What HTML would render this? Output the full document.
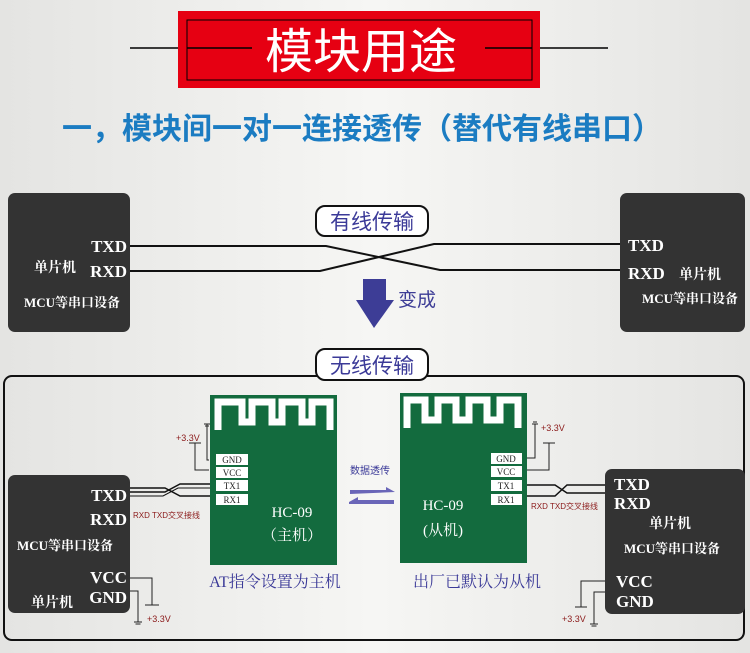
<!DOCTYPE html>
<html><head><meta charset="utf-8"><style>
html,body{margin:0;padding:0;background:#efefed;}
svg{display:block}
text{font-family:"Liberation Serif","Noto Serif CJK SC","Noto Sans CJK SC",serif;}
.s{font-family:"Liberation Sans","Noto Sans CJK SC",sans-serif;}
</style></head><body>
<svg width="750" height="653" viewBox="0 0 750 653" xmlns="http://www.w3.org/2000/svg">
<defs>
<linearGradient id="bg" x1="0" x2="1" y1="0" y2="0">
<stop offset="0" stop-color="#e4e4e2"/><stop offset="0.5" stop-color="#f6f6f4"/><stop offset="1" stop-color="#e4e4e2"/>
</linearGradient>
</defs>
<rect width="750" height="653" fill="url(#bg)"/>
<!-- title -->
<line x1="130" y1="48" x2="252" y2="48" stroke="#000" stroke-width="1.5"/>
<line x1="485" y1="48" x2="608" y2="48" stroke="#000" stroke-width="1.5"/>
<rect x="178" y="11" width="362" height="77" fill="#e60012"/>
<rect x="187" y="20" width="345" height="60" fill="none" stroke="#000" stroke-width="1"/>
<line x1="187" y1="48" x2="252" y2="48" stroke="#000" stroke-width="1.5"/>
<line x1="485" y1="48" x2="532" y2="48" stroke="#000" stroke-width="1.5"/>
<text x="361" y="68" font-size="48" fill="#fff" text-anchor="middle" class="s">模块用途</text>
<text x="362" y="139" font-size="30" fill="#1b7cc2" text-anchor="middle" class="s" font-weight="bold">一，模块间一对一连接透传（替代有线串口）</text>

<!-- top wired -->
<rect x="8" y="193" width="122" height="139" rx="7" fill="#333"/>
<rect x="620" y="193" width="125" height="139" rx="7" fill="#333"/>
<text x="127" y="252" font-size="17" fill="#fff" text-anchor="end" font-weight="bold">TXD</text>
<text x="127" y="277" font-size="17" fill="#fff" text-anchor="end" font-weight="bold">RXD</text>
<text x="55" y="272" font-size="14" fill="#fff" text-anchor="middle" font-weight="bold">单片机</text>
<text x="72" y="307" font-size="13" fill="#fff" text-anchor="middle" font-weight="bold">MCU等串口设备</text>
<text x="628" y="251" font-size="17" fill="#fff" font-weight="bold">TXD</text>
<text x="628" y="279" font-size="17" fill="#fff" font-weight="bold">RXD</text>
<text x="700" y="279" font-size="14" fill="#fff" text-anchor="middle" font-weight="bold">单片机</text>
<text x="690" y="303" font-size="13" fill="#fff" text-anchor="middle" font-weight="bold">MCU等串口设备</text>
<polyline points="130,246 326,246 440,270 620,270" fill="none" stroke="#111" stroke-width="2"/>
<polyline points="130,271 320,271 434,244 620,244" fill="none" stroke="#111" stroke-width="2"/>
<rect x="316" y="206" width="112" height="30" rx="9" fill="#fff" stroke="#111" stroke-width="2"/>
<text x="372" y="229" font-size="21" fill="#3b3a98" text-anchor="middle" class="s">有线传输</text>
<polygon points="363,279 386,279 386,300 394,300 374,328 356,300 363,300" fill="#3d3d96"/>
<text x="398" y="306" font-size="19" fill="#3d3d96" class="s">变成</text>

<!-- big box -->
<rect x="4" y="376" width="740" height="264" rx="8" fill="none" stroke="#111" stroke-width="2"/>
<rect x="316" y="349" width="112" height="31" rx="9" fill="#fff" stroke="#111" stroke-width="2"/>
<text x="372" y="373" font-size="21" fill="#3b3a98" text-anchor="middle" class="s">无线传输</text>

<!-- bottom left MCU -->
<rect x="8" y="475" width="122" height="138" rx="7" fill="#333"/>
<text x="127" y="501" font-size="17" fill="#fff" text-anchor="end" font-weight="bold">TXD</text>
<text x="127" y="525" font-size="17" fill="#fff" text-anchor="end" font-weight="bold">RXD</text>
<text x="65" y="550" font-size="13" fill="#fff" text-anchor="middle" font-weight="bold">MCU等串口设备</text>
<text x="127" y="583" font-size="17" fill="#fff" text-anchor="end" font-weight="bold">VCC</text>
<text x="127" y="603" font-size="17" fill="#fff" text-anchor="end" font-weight="bold">GND</text>
<text x="52" y="607" font-size="14" fill="#fff" text-anchor="middle" font-weight="bold">单片机</text>
<polyline points="130,578 152,578 152,605" fill="none" stroke="#222" stroke-width="1"/>
<line x1="145" y1="605" x2="159" y2="605" stroke="#222"/>
<polyline points="130,591 138,591 138,622" fill="none" stroke="#222" stroke-width="1"/>
<line x1="134" y1="622" x2="142" y2="622" stroke="#222"/><line x1="135.5" y1="624" x2="140.5" y2="624" stroke="#222"/>
<text x="147" y="622" font-size="9" fill="#8b1a1a" class="s">+3.3V</text>
<polyline points="130,488 165,488 180,496 212,496" fill="none" stroke="#111" stroke-width="1.5"/>
<polyline points="130,492 165,492 180,484 212,484" fill="none" stroke="#111" stroke-width="1.5"/>
<polyline points="130,496 163,496 178,488 212,488" fill="none" stroke="#111" stroke-width="1"/>
<text x="133" y="518" font-size="8" fill="#8b1a1a" class="s">RXD TXD交叉接线</text>

<!-- module 1 -->
<rect x="210" y="395" width="127" height="170" fill="#136b3e"/>
<path d="M218 430 V402 H242 V422 H252 V402 H272 V422 H282 V402 H302 V422 H312 V402 H330 V430" fill="none" stroke="#fff" stroke-width="7"/>
<g fill="#fff">
<rect x="216" y="454" width="32" height="11"/><rect x="216" y="467" width="32" height="11"/><rect x="216" y="480" width="32" height="11"/><rect x="216" y="494" width="32" height="11"/>
</g>
<g font-size="9" fill="#222" text-anchor="middle"><text x="232" y="463">GND</text><text x="232" y="476">VCC</text><text x="232" y="489">TX1</text><text x="232" y="503">RX1</text></g>
<text x="292" y="517" font-size="15" fill="#fff" text-anchor="middle">HC-09</text>
<text x="292" y="540" font-size="15" fill="#fff" text-anchor="middle">（主机）</text>
<polyline points="209,460 207,460 207,424" fill="none" stroke="#222"/>
<line x1="204" y1="424" x2="210" y2="424" stroke="#222"/><line x1="205" y1="426" x2="209" y2="426" stroke="#222"/>
<polyline points="209,470 195,470 195,443" fill="none" stroke="#222"/>
<line x1="189" y1="443" x2="201" y2="443" stroke="#222"/>
<text x="176" y="441" font-size="9" fill="#8b1a1a" class="s">+3.3V</text>
<text x="275" y="587" font-size="16" fill="#3b3a98" text-anchor="middle">AT指令设置为主机</text>

<!-- middle -->
<text x="370" y="474" font-size="10" fill="#3b3a98" text-anchor="middle" class="s">数据透传</text>
<polygon points="350,490 386,490 386,487 395,492 350,494" fill="#6a66b8"/>
<polygon points="349,502 358,497 358,500 394,500 394,504 349,504" fill="#6a66b8"/>

<!-- module 2 -->
<rect x="400" y="393" width="127" height="170" fill="#136b3e"/>
<path d="M407 428 V400 H425 V420 H438 V400 H456 V420 H469 V400 H487 V420 H500 V400 H518 V428" fill="none" stroke="#fff" stroke-width="7"/>
<g fill="#fff">
<rect x="491" y="453" width="31" height="11"/><rect x="491" y="466" width="31" height="11"/><rect x="491" y="480" width="31" height="11"/><rect x="491" y="494" width="31" height="11"/>
</g>
<g font-size="9" fill="#222" text-anchor="middle"><text x="506" y="462">GND</text><text x="506" y="475">VCC</text><text x="506" y="489">TX1</text><text x="506" y="503">RX1</text></g>
<text x="443" y="510" font-size="15" fill="#fff" text-anchor="middle">HC-09</text>
<text x="443" y="535" font-size="15" fill="#fff" text-anchor="middle">(从机)</text>
<polyline points="527,458 535,458 535,424" fill="none" stroke="#222"/>
<line x1="532" y1="424" x2="538" y2="424" stroke="#222"/><line x1="533" y1="422" x2="537" y2="422" stroke="#222"/>
<polyline points="527,470 549,470 549,443" fill="none" stroke="#222"/>
<line x1="543" y1="443" x2="555" y2="443" stroke="#222"/>
<text x="541" y="431" font-size="9" fill="#8b1a1a" class="s">+3.3V</text>
<text x="477" y="587" font-size="16" fill="#3b3a98" text-anchor="middle">出厂已默认为从机</text>

<!-- bottom right MCU -->
<polyline points="527,485 555,485 567,493 605,493" fill="none" stroke="#111" stroke-width="1.5"/>
<polyline points="527,496 555,496 567,485 605,485" fill="none" stroke="#111" stroke-width="1.5"/>
<text x="531" y="509" font-size="8" fill="#8b1a1a" class="s">RXD TXD交叉接线</text>
<rect x="605" y="469" width="140" height="145" rx="7" fill="#333"/>
<text x="614" y="490" font-size="17" fill="#fff" font-weight="bold">TXD</text>
<text x="614" y="509" font-size="17" fill="#fff" font-weight="bold">RXD</text>
<text x="670" y="528" font-size="14" fill="#fff" text-anchor="middle" font-weight="bold">单片机</text>
<text x="672" y="553" font-size="13" fill="#fff" text-anchor="middle" font-weight="bold">MCU等串口设备</text>
<text x="616" y="587" font-size="17" fill="#fff" font-weight="bold">VCC</text>
<text x="616" y="607" font-size="17" fill="#fff" font-weight="bold">GND</text>
<polyline points="605,581 581,581 581,607" fill="none" stroke="#222"/>
<line x1="575" y1="607" x2="587" y2="607" stroke="#222"/>
<polyline points="605,592 594,592 594,624" fill="none" stroke="#222"/>
<line x1="590" y1="624" x2="598" y2="624" stroke="#222"/><line x1="591.5" y1="626" x2="596.5" y2="626" stroke="#222"/>
<text x="562" y="622" font-size="9" fill="#8b1a1a" class="s">+3.3V</text>
</svg>
</body></html>
